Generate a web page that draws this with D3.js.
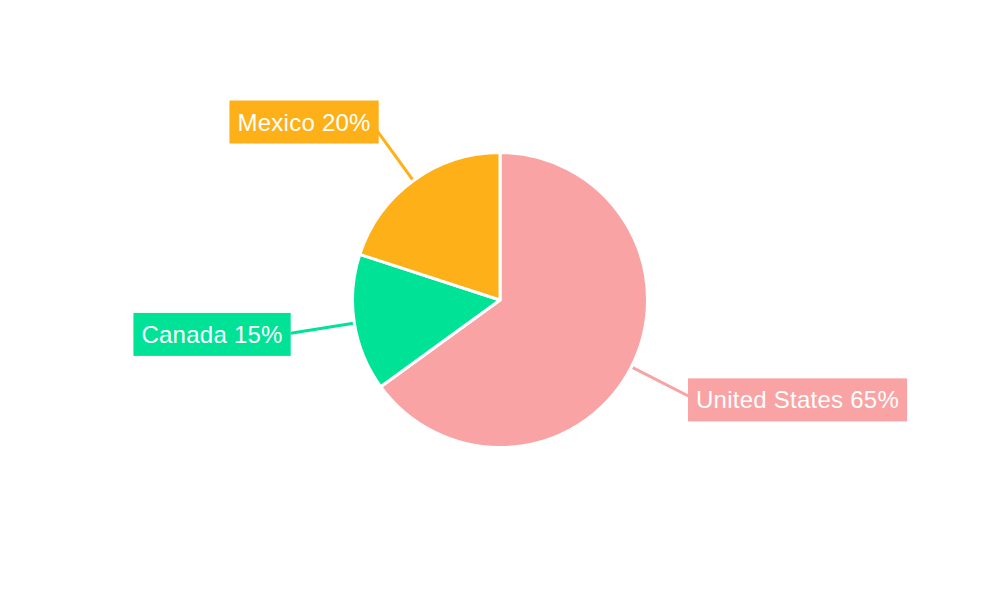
<!DOCTYPE html>
<html>
<head>
<meta charset="utf-8">
<script src="https://cdn.jsdelivr.net/npm/d3@7"></script>
<style>
  html, body { margin: 0; padding: 0; background: #fff; }
  svg { display: block; }
</style>
</head>
<body>
<svg id="chart" width="1000" height="600"></svg>
<script>
const categories = ["United States", "Canada", "Mexico"];
const values = [65, 15, 20];
const colors = ["#F9A3A4", "#00E396", "#FEB019"];

const W = 1000, H = 600;
const cx = 500, cy = 300, radius = 147.5;
const lineEndR = 212, labelR = 220;

const svg = d3.select("#chart");
const g = svg.append("g").attr("transform", `translate(${cx},${cy})`);

const data = categories.map((c, i) => ({ name: c, value: values[i], color: colors[i] }));
const total = d3.sum(values);

const pie = d3.pie().value(d => d.value).sort(null);
const arcs = pie(data);
const arc = d3.arc().innerRadius(0).outerRadius(radius);

const pt = (a, r) => [Math.sin(a) * r, -Math.cos(a) * r];

// connector lines
g.selectAll("line.conn").data(arcs).join("line")
  .attr("class", "conn")
  .attr("x1", d => pt((d.startAngle + d.endAngle) / 2, radius - 4)[0])
  .attr("y1", d => pt((d.startAngle + d.endAngle) / 2, radius - 4)[1])
  .attr("x2", d => pt((d.startAngle + d.endAngle) / 2, lineEndR)[0])
  .attr("y2", d => pt((d.startAngle + d.endAngle) / 2, lineEndR)[1])
  .attr("stroke", d => d.data.color)
  .attr("stroke-width", 3);

// slices
g.selectAll("path.slice").data(arcs).join("path")
  .attr("class", "slice")
  .attr("d", arc)
  .attr("fill", d => d.data.color)
  .attr("stroke", "#fff")
  .attr("stroke-width", 3)
  .attr("stroke-linejoin", "round");

// labels
const labels = g.selectAll("g.lab").data(arcs).join("g").attr("class", "lab");
labels.each(function(d) {
  const a = (d.startAngle + d.endAngle) / 2;
  const [x, y] = pt(a, labelR);
  const right = Math.sin(a) >= 0;
  const sel = d3.select(this);
  const rect = sel.append("rect").attr("fill", d.data.color);
  const text = sel.append("text")
    .attr("x", x).attr("y", y)
    .attr("text-anchor", right ? "start" : "end")
    .attr("dominant-baseline", "central")
    .attr("fill", "#fff")
    .style("font-family", "'Liberation Sans', Arial, sans-serif")
    .style("font-size", "24px")
    .style("letter-spacing", "0.25px")
    .text(`${d.data.name} ${Math.round(d.data.value / total * 100)}%`);
  const bb = text.node().getBBox();
  const padX = 8;
  rect.attr("x", bb.x - padX)
    .attr("y", y - 21.5)
    .attr("width", bb.width + padX * 2)
    .attr("height", 43);
});
</script>
</body>
</html>
